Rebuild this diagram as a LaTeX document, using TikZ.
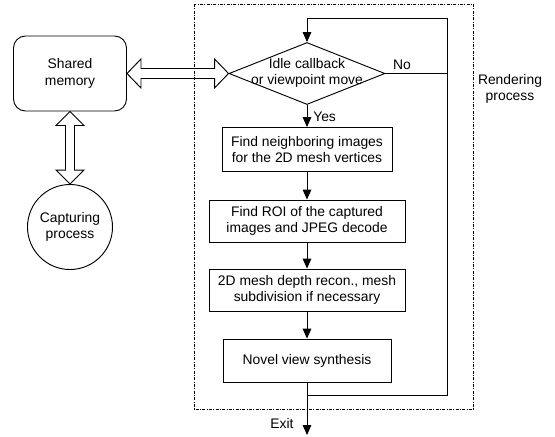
\documentclass[tikz,border=0pt]{standalone}
\usepackage{fontspec}
\setmainfont{Liberation Sans}
\usetikzlibrary{shapes.geometric,arrows.meta,calc}
\begin{document}
\begin{tikzpicture}[x=0.75pt,y=-0.75pt,
  every node/.style={font=\fontsize{10.4}{12.5}\selectfont, inner sep=0pt},
  ln/.style={line width=0.7pt},
  arr/.style={ln,-{Triangle[length=7.5pt,width=6.5pt]}},
  procbox/.style={draw, ln, rectangle, align=center},
  frame/.style={line width=0.6pt, dash pattern=on 2.2pt off 1pt on 0.8pt off 1pt},
  dbl/.style={line width=0.7pt, line join=miter}
]
\useasboundingbox (0,0) rectangle (555,436);
% frame
\draw[frame] (194,4) rectangle (473.5,409);
% left side
\node[draw, ln, rounded corners=9pt, minimum width=84.75pt, minimum height=56.25pt, align=center] (mem) at (70,73.5) {Shared\\memory};
\node[draw, ln, circle, minimum size=63.75pt, align=center] (cap) at (70,227) {Capturing\\process};
% decision
\node[draw, ln, diamond, minimum width=117pt, minimum height=46.5pt] (dec) at (307,73.5) {};
\node[align=center] (dectxt) at (307,73) {Idle callback\\or viewpoint move};
% boxes
\node[procbox, minimum width=127.5pt, minimum height=33pt] (b1) at (307,149.5) {Find neighboring images\\for the 2D mesh vertices};
\node[procbox, minimum width=147pt, minimum height=31.5pt] (b2) at (307,221) {Find ROI of the captured\\images and JPEG decode};
\node[procbox, minimum width=147pt, minimum height=31.5pt] (b3) at (307,290) {2D mesh depth recon., mesh\\subdivision if necessary};
\node[procbox, minimum width=126pt, minimum height=32.25pt] (b4) at (307,360.5) {Novel view synthesis};
% labels
\node[anchor=west] (yes) at (313,117) {Yes};
\node (no) at (402,65) {No};
\node[align=center] (rend) at (510,89) {Rendering\\process};
\node (exitlbl) at (282,424) {Exit};
\coordinate (exit) at (307,435);
\coordinate (join) at (307,395);
\coordinate (rbot) at (447,395);
\coordinate (rtop) at (447,18);
\coordinate (ltop) at (307,18);
\coordinate (rmid) at (447,73.5);
% connectors
\draw[arr] (dec.south) -- (b1.north);
\draw[arr] (b1.south) -- (b2.north);
\draw[arr] (b2.south) -- (b3.north);
\draw[arr] (b3.south) -- (b4.north);
\draw[arr] (b4.south) -- (exit);
\draw[arr] (join) -- (rbot) -- (rtop) -- (ltop) -- (dec.north);
\draw[ln] (dec.east) -- (rmid);
% double arrows
\draw[dbl] (mem.east) -- ++(14,-14.5) -- ++(0,9.5) -- ($(dec.west)+(-14,-5)$) -- ++(0,-9.5) -- (dec.west) -- ++(-14,14.5) -- ++(0,-9.5) -- ($(mem.east)+(14,5)$) -- ++(0,9.5) -- cycle;
\draw[dbl] (mem.south) -- ++(14,14) -- ++(-9.5,0) -- ($(cap.north)+(4.5,-14)$) -- ++(9.5,0) -- (cap.north) -- ++(-14,-14) -- ++(9.5,0) -- ($(mem.south)+(-4.5,14)$) -- ++(-9.5,0) -- cycle;
\end{tikzpicture}
\end{document}
